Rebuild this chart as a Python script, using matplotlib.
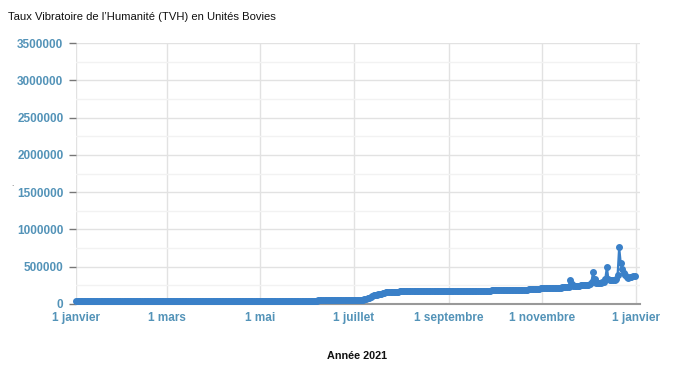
import pandas as pd
import matplotlib
matplotlib.use("Agg")
import matplotlib.pyplot as plt
import matplotlib.dates as mdates
from matplotlib.ticker import MultipleLocator, FuncFormatter

plt.rcParams['font.family'] = ['Liberation Sans', 'DejaVu Sans']

# valeurs journalières en milliers d'unités bovies
janvier = [35.0, 35.1, 35.1, 35.2, 35.3, 35.3, 35.4, 35.5, 35.5, 35.6, 35.7, 35.8, 35.8, 35.9, 36.0, 36.1,
           36.1, 36.2, 36.3, 36.4, 36.4, 36.5, 36.6, 36.7, 36.7, 36.8, 36.9, 37.0, 37.0, 37.1, 37.2]
fevrier = [37.3, 37.4, 37.4, 37.5, 37.6, 37.7, 37.7, 37.8, 37.9, 38.0, 38.0, 38.1, 38.2, 38.3, 38.3, 38.4,
           38.5, 38.6, 38.6, 38.7, 38.8, 38.9, 38.9, 39.0, 39.1, 39.2, 39.2, 39.3]
mars = [39.4, 39.5, 39.5, 39.6, 39.7, 39.8, 39.8, 39.9, 40.0, 40.1, 40.1, 40.2, 40.3, 40.4, 40.4, 40.5,
        40.6, 40.7, 40.7, 40.8, 40.9, 41.0, 41.0, 41.1, 41.2, 41.3, 41.3, 41.4, 41.5, 41.5, 41.6]
avril = [41.7, 41.8, 41.8, 41.9, 42.0, 42.1, 42.1, 42.2, 42.3, 42.4, 42.4, 42.5, 42.6, 42.7, 42.7, 42.8,
         42.9, 43.0, 43.0, 43.1, 43.2, 43.3, 43.3, 43.4, 43.5, 43.6, 43.6, 43.7, 43.8, 43.9]
mai = [43.9, 44.0, 44.1, 44.2, 44.2, 44.3, 44.4, 44.5, 44.5, 44.6, 44.7, 44.8, 44.8, 44.9, 45.0, 45.1,
       45.1, 45.2, 45.3, 45.4, 45.4, 45.5, 45.6, 45.7, 45.7, 45.8, 45.9, 46.0, 46.0, 46.1, 46.2]
juin = [46.3, 46.4, 46.5, 46.6, 46.7, 46.8, 46.9, 47.0, 47.1, 47.2, 47.3, 47.4, 47.5, 47.6, 47.7, 47.8,
        47.9, 48.0, 48.1, 48.2, 48.3, 48.4, 48.5, 48.6, 48.7, 48.8, 48.9, 49.0, 49.1, 49.2]
juillet = [49, 50, 51, 52, 53, 55, 58, 62, 68, 75, 85, 100, 112, 120, 124, 127,
           130, 133, 138, 145, 152, 157, 160, 162, 163, 164, 165, 166, 167, 167, 168]
aout = [168.5, 168.7, 169.0, 169.2, 169.4, 169.6, 169.8, 170.0, 170.2, 170.4, 170.6, 170.8, 171.0, 171.2,
        171.4, 171.6, 171.8, 172.0, 172.2, 172.4, 172.6, 172.8, 173.0, 173.2, 173.4, 173.6, 173.8, 174.0,
        174.3, 174.6, 175.0]
septembre = [175.2, 175.4, 175.6, 175.8, 176.0, 176.2, 176.4, 176.6, 176.8, 177.0, 177.2, 177.4, 177.6,
             177.8, 178.0, 178.2, 178.4, 178.6, 178.8, 179.0, 179.2, 179.4, 179.6, 179.8, 180.0, 180.3,
             180.6, 181.0, 181.4, 181.8]
octobre = [182.0, 182.2, 182.4, 182.6, 182.8, 183.0, 183.2, 183.4, 183.6, 183.8, 184.0, 184.2, 184.4,
           184.6, 184.8, 185.0, 185.2, 185.4, 185.6, 185.8, 186.0, 188.0, 200.0, 204.0, 205.0, 205.5,
           206.0, 206.5, 207.0, 207.5, 208.0]
novembre = [209, 210, 211, 212, 213, 214, 215, 216, 217, 218, 219, 220, 221, 222, 224, 226,
            228, 232, 320, 270, 240, 242, 244, 246, 248, 250, 252, 254, 256, 258]
decembre = [260, 264, 300, 430, 330, 285, 282, 285, 288, 292, 298, 340, 495, 330, 318, 320,
            322, 325, 330, 390, 760, 550, 465, 420, 395, 360, 355, 362, 368, 375, 382]

valeurs_k = janvier + fevrier + mars + avril + mai + juin + juillet + aout + septembre + octobre + novembre + decembre
dates = pd.date_range("2021-01-01", periods=len(valeurs_k), freq="D")
valeurs = [v * 1000 for v in valeurs_k]

tick_dates = pd.to_datetime(["2021-01-01", "2021-03-01", "2021-05-01", "2021-07-01",
                             "2021-09-01", "2021-11-01", "2022-01-01"])
tick_labels = ["1 janvier", "1 mars", "1 mai", "1 juillet", "1 septembre", "1 novembre", "1 janvier"]

label_color = "#5393b8"

fig = plt.figure(figsize=(6.89, 3.76), dpi=100)
ax = fig.add_axes([76 / 689, 1 - 304 / 376, 564 / 689, 261 / 376])

ax.plot(dates, valeurs, color="#3a80c8", linewidth=1.6, marker="o", markersize=4.0,
        clip_on=False, zorder=3, snap=False)

ax.set_xlim(pd.Timestamp("2021-01-01"), pd.Timestamp("2022-01-03 14:00"))
ax.set_ylim(0, 3500000)
ax.set_xticks(tick_dates)
ax.set_xticklabels(tick_labels)
ax.yaxis.set_major_locator(MultipleLocator(500000))
ax.yaxis.set_minor_locator(MultipleLocator(250000))
ax.yaxis.set_major_formatter(FuncFormatter(lambda v, p: f"{int(v)}"))

ax.grid(True, which="major", color="#e2e2e2", linewidth=1)
ax.grid(True, which="minor", axis="y", color="#f2f2f2", linewidth=1)
ax.set_axisbelow(True)

for s in ["top", "right", "left"]:
    ax.spines[s].set_visible(False)
ax.spines["bottom"].set_color("#999999")
ax.spines["bottom"].set_linewidth(1.5)

ax.tick_params(axis="x", length=0, pad=6, labelsize=8.5, labelcolor=label_color)
ax.tick_params(axis="y", which="major", length=5, width=1, color="#777777", pad=4,
               labelsize=8.5, labelcolor=label_color)
ax.tick_params(axis="y", which="minor", length=0)
for lab in ax.get_xticklabels() + ax.get_yticklabels():
    lab.set_fontweight("bold")

fig.text(8 / 689, 1 - 17 / 376, "Taux Vibratoire de l\u2019Humanité (TVH) en Unités Bovies",
         fontsize=8.1, color="#111111", va="center", ha="left")
fig.text(357 / 689, 1 - 356 / 376, "Année 2021", fontsize=7.8, fontweight="bold",
         color="#111111", va="center", ha="center")
fig.text(12 / 689, 1 - 185 / 376, ".", fontsize=6, color="#555555", ha="center", va="center")

fig.savefig("out.png", dpi=100)
